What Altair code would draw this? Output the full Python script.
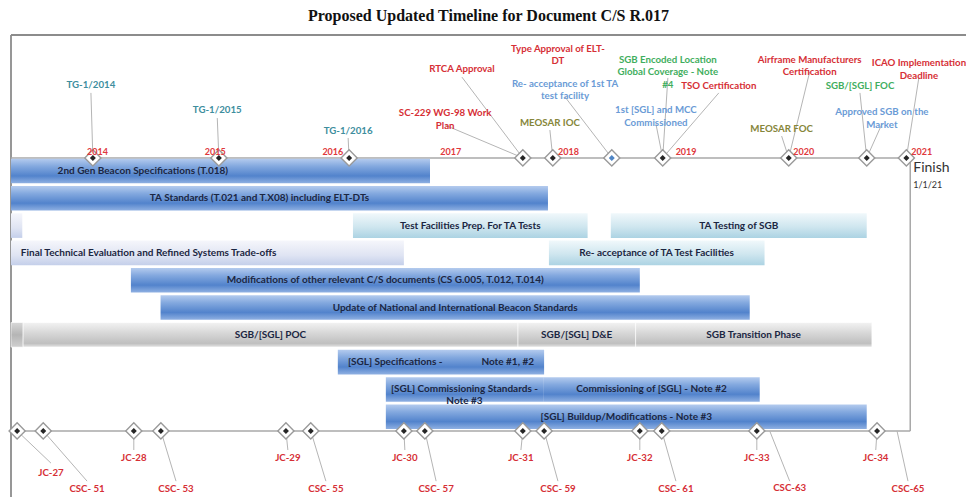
import altair as alt
import pandas as pd

NB = "\u00a0"

# ---------------- data ----------------
domain_start = "2013-05-13"
domain_end = "2021-06-23"
row_min, row_max = -3.982, 12.941      # y-scale domain (row units)
top_line_row, bottom_line_row = 0.52, 10.52
finish_date = "2021-01-01"

bar_tasks = [
    "2nd Gen Beacon Specifications (T.018)",
    "TA Standards (T.021 and T.X08) including ELT-DTs",
    "",
    "Test Facilities Prep. For TA Tests",
    "TA Testing of SGB",
    "Final Technical Evaluation and Refined Systems Trade-offs",
    "Re- acceptance of TA Test Facilities",
    "Modifications of other relevant C/S documents (CS G.005, T.012, T.014)",
    "Update of National and International Beacon Standards",
    "",
    "SGB/[SGL] POC",
    "SGB/[SGL] D&E",
    "SGB Transition Phase",
    "[SGL] Specifications -" + NB * 16 + "Note #1, #2",
    "[SGL] Commissioning Standards -\nNote #3",
    "Commissioning of [SGL] - Note #2",
    "[SGL] Buildup/Modifications - Note #3",
]
bar_rows = [1, 2, 3, 3, 3, 4, 4, 5, 6, 7, 7, 7, 7, 8, 9, 9, 10]
bar_starts = ["2013-05-13", "2013-05-13", "2013-05-13", "2016-04-08", "2018-06-17",
              "2013-05-13", "2017-12-07", "2014-05-20", "2014-08-20", "2013-05-13",
              "2013-06-19", "2017-09-02", "2018-09-02", "2016-02-21", "2016-07-19",
              "2017-11-19", "2016-07-19"]
bar_ends = ["2016-12-03", "2017-12-04", "2013-06-17", "2018-04-06", "2020-08-19",
            "2016-09-13", "2019-10-07", "2018-09-15", "2019-08-22", "2013-06-19",
            "2017-09-02", "2018-09-02", "2020-09-04", "2017-11-22", "2017-11-19",
            "2019-09-22", "2020-08-19"]
bar_styles = ["blue", "blue", "pale", "cyan", "cyan", "pale", "cyan", "blue", "blue",
              "grayedge", "gray", "gray", "gray", "blue", "blue", "blue", "blue"]
bar_label_dates = ["2014-06-26", "2015-06-23", None, None, None, "2014-07-14", None, None,
                   None, None, None, None, None, None, None, None, None]

top_labels = ["TG-1/2014", "TG-1/2015", "TG-1/2016", "RTCA Approval",
              "SC-229 WG-98 Work\nPlan", "Type Approval of ELT-\nDT",
              "Re- acceptance of 1st TA\ntest facility", "MEOSAR IOC",
              "SGB Encoded Location\nGlobal Coverage - Note\n#4", "TSO Certification",
              "1st [SGL] and MCC\nCommissioned", "Airframe Manufacturers\nCertification",
              "MEOSAR FOC", "SGB/[SGL] FOC", "Approved SGB on the\nMarket",
              "ICAO Implementation\nDeadline"]
top_dates = ["2014-01-22", "2015-02-17", "2016-03-27", "2017-09-17", "2017-09-17",
             "2018-06-20", "2018-06-20", "2017-12-19", "2018-11-25", "2018-11-25",
             "2018-11-25", "2019-12-21", "2019-12-21", "2020-08-19", "2020-08-19",
             "2020-12-20"]
top_label_dates = ["2014-01-16", "2015-02-12", "2016-03-24", "2017-03-12", "2017-01-19",
                   "2018-01-04", "2018-01-26", "2017-12-10", "2018-12-11", "2019-05-18",
                   "2018-11-04", "2020-02-24", "2019-11-29", "2020-07-29", "2020-10-05",
                   "2021-01-28"]
top_label_rows = [-2.15, -1.23, -0.47, -2.74, -1.12, -3.47, -2.20, -0.76, -3.08, -2.11,
                  -1.22, -3.08, -0.54, -2.11, -1.16, -2.94]
top_leader_rows = [-1.86, -0.94, -0.21, -2.44, -0.68, None, -1.71, -0.50, -2.41, -1.86,
                   -0.72, -2.63, -0.28, -1.86, -0.72, -2.44]
top_kinds = ["TG", "TG", "TG", "Regulatory", "Regulatory", "Regulatory", "Facility",
             "MEOSAR", "Coverage", "Regulatory", "Facility", "Regulatory", "MEOSAR",
             "Coverage", "Facility", "Regulatory"]

top_diamond_dates = ["2014-01-22", "2015-02-17", "2016-03-27", "2017-09-17", "2017-12-19",
                     "2018-06-20", "2018-11-25", "2019-12-21", "2020-08-19", "2020-12-20"]
top_diamond_kinds = ["done", "done", "done", "done", "done", "facility", "done", "done",
                     "done", "done"]

bottom_labels = ["JC-27", "CSC- 51", "JC-28", "CSC- 53", "JC-29", "CSC- 55", "JC-30",
                 "CSC- 57", "JC-31", "CSC- 59", "JC-32", "CSC- 61", "JC-33", "CSC-63",
                 "JC-34", "CSC-65"]
bottom_dates = ["2013-06-01", "2013-08-21", "2014-05-29", "2014-08-21", "2015-09-13",
                "2015-11-29", "2016-09-13", "2016-11-17", "2017-09-17", "2017-11-22",
                "2018-09-15", "2018-11-22", "2019-09-13", "2019-10-23", "2020-09-20",
                "2020-11-21"]
bottom_label_dates = ["2013-09-14", "2014-01-04", "2014-05-29", "2014-10-07", "2015-09-19",
                      "2016-01-15", "2016-09-16", "2016-12-22", "2017-09-11", "2018-01-04",
                      "2018-09-15", "2019-01-05", "2019-09-13", "2019-12-24", "2020-09-16",
                      "2020-12-25"]
bottom_label_rows = [12.06, 12.66, 11.51, 12.66, 11.51, 12.66, 11.51, 12.66, 11.51, 12.66,
                     11.51, 12.66, 11.51, 12.62, 11.51, 12.66]
bottom_leader_rows = [11.70, 12.36, 11.22, 12.36, 11.22, 12.36, 11.22, 12.36, 11.22, 12.36,
                      11.22, 12.36, 11.22, 12.36, 11.22, 12.36]
bottom_has_diamond = [True] * 13 + [False, True, False]

year_labels = ["2014", "2015", "2016", "2017", "2018", "2019", "2020", "2021"]
year_dates = ["2014-01-01", "2015-01-01", "2016-01-01", "2017-01-01", "2018-01-01",
              "2019-01-01", "2020-01-01", "2021-01-01"]
year_row = 0.30

finish_texts = ["Finish", "1/1/21"]
finish_rows = [0.89, 1.51]

title_text = "Proposed Updated Timeline for Document C/S R.017"

kind_domain = ["Regulatory", "TG", "Facility", "Coverage", "MEOSAR"]
kind_colors = ["#d62f36", "#3e8e9e", "#6a9bd6", "#3fae5e", "#86863a"]

# ---------------- tables ----------------
bars = pd.DataFrame({"task": bar_tasks, "row": bar_rows, "start": bar_starts,
                     "end": bar_ends, "style": bar_styles})
s = pd.to_datetime(bars["start"])
e = pd.to_datetime(bars["end"])
mid = s + (e - s) / 2
bars["label_at"] = [la if la else m.strftime("%Y-%m-%d") for la, m in zip(bar_label_dates, mid)]
bars["top"] = bars["row"] - 0.45
bars["bottom"] = bars["row"] + 0.45

top_ms = pd.DataFrame({"label": top_labels, "date": top_dates, "label_at": top_label_dates,
                       "label_row": top_label_rows, "leader_row": top_leader_rows,
                       "kind": top_kinds})
top_ms["line_row"] = top_line_row
bot_ms = pd.DataFrame({"label": bottom_labels, "date": bottom_dates,
                       "label_at": bottom_label_dates, "label_row": bottom_label_rows,
                       "leader_row": bottom_leader_rows, "has_diamond": bottom_has_diamond})
bot_ms["kind"] = "Regulatory"
bot_ms["line_row"] = bottom_line_row

labels_all = pd.concat([top_ms[["label", "label_at", "label_row", "kind"]],
                        bot_ms[["label", "label_at", "label_row", "kind"]]])
leaders = pd.concat([top_ms.dropna(subset=["leader_row"])[["label_at", "leader_row", "date", "line_row"]],
                     bot_ms[["label_at", "leader_row", "date", "line_row"]]])

diamonds = pd.concat([
    pd.DataFrame({"date": top_diamond_dates, "row": top_line_row, "kind": top_diamond_kinds}),
    pd.DataFrame({"date": bot_ms.loc[bot_ms.has_diamond, "date"].tolist(),
                  "row": bottom_line_row, "kind": "done"}),
])

lines = pd.DataFrame({
    "x": [domain_start, domain_start, domain_start, domain_start, finish_date],
    "x2": [domain_end, domain_start, finish_date, finish_date, finish_date],
    "y": [row_min, row_min, top_line_row, bottom_line_row, top_line_row],
    "y2": [row_min, row_max, top_line_row, bottom_line_row, bottom_line_row],
    "kind": ["frame", "frame", "timeline", "timeline", "timeline"],
})
years = pd.DataFrame({"year": year_labels, "date": year_dates, "row": year_row})
finish = pd.DataFrame({"text": finish_texts, "date": finish_date, "row": finish_rows,
                       "size": [14, 9]})

# ---------------- scales ----------------
xs = alt.Scale(domain=[alt.DateTime(year=2013, month=5, date=13, utc=True),
                       alt.DateTime(year=2021, month=6, date=23, utc=True)])
ys = alt.Scale(domain=[row_min, row_max], reverse=True, nice=False, zero=False)


def X(f):
    return alt.X(f + ":T", scale=xs, axis=None)


def Y(f):
    return alt.Y(f + ":Q", scale=ys, axis=None)


def grad(stops):
    return alt.Gradient(gradient="linear", x1=0, x2=0, y1=0, y2=1,
                        stops=[alt.GradientStop(offset=o, color=c) for o, c in stops])


styles = {
    "blue": grad([(0, "#b4cbee"), (0.3, "#84a9df"), (0.7, "#5283cc"), (1, "#8fb0e2")]),
    "cyan": grad([(0, "#f0f8fb"), (0.55, "#cfe6ef"), (1, "#acd3e3")]),
    "pale": grad([(0, "#f5f6fb"), (0.6, "#dfe4f3"), (1, "#c4cfea")]),
    "gray": grad([(0, "#f2f2f2"), (0.45, "#d6d6d6"), (0.85, "#bfbfbf"), (1, "#e4e4e4")]),
    "grayedge": grad([(0, "#d8d8d8"), (0.5, "#b5b5b5"), (1, "#cfcfcf")]),
}

frame_layer = alt.Chart(lines).transform_filter(alt.datum.kind == "frame").mark_rule(
    strokeWidth=1.8, color="#8c8c8c").encode(x=X("x"), x2="x2:T", y=Y("y"), y2="y2:Q")
timeline_layer = alt.Chart(lines).transform_filter(alt.datum.kind == "timeline").mark_rule(
    strokeWidth=1.5, color="#a8a8a8").encode(x=X("x"), x2="x2:T", y=Y("y"), y2="y2:Q")

leader_layer = alt.Chart(leaders).mark_rule(strokeWidth=1, color="#b5b5b5").encode(
    x=X("label_at"), x2="date:T", y=Y("leader_row"), y2="line_row:Q")

bar_layers = []
for st, g in styles.items():
    bar_layers.append(
        alt.Chart(bars).transform_filter(alt.datum.style == st)
        .mark_bar(color=g, stroke="white", strokeWidth=0.6 if st.startswith("gray") else 0)
        .encode(x=X("start"), x2="end:T", y=Y("top"), y2="bottom:Q")
    )

bar_text = alt.Chart(bars).transform_filter(alt.datum.task != "").mark_text(
    font="Lato", fontSize=10, fontWeight="bold", color="#1b2642", lineBreak="\n",
    lineHeight=11.5, align="center", baseline="middle",
).encode(x=X("label_at"), y=Y("row"), text="task:N")

diamond_outer = alt.Chart(diamonds).mark_point(
    shape="diamond", fill="white", stroke="#9a9a9a", strokeWidth=1.4, size=260, opacity=1,
).encode(x=X("date"), y=Y("row"))
diamond_dark = alt.Chart(diamonds).transform_filter(alt.datum.kind == "done").mark_point(
    shape="diamond", filled=True, size=36, opacity=1, color="#262626",
).encode(x=X("date"), y=Y("row"))
diamond_blue = alt.Chart(diamonds).transform_filter(alt.datum.kind == "facility").mark_point(
    shape="diamond", filled=True, size=36, opacity=1, color="#4f86c6",
).encode(x=X("date"), y=Y("row"))

label_layer = alt.Chart(labels_all).mark_text(
    font="Lato", fontSize=9.7, fontWeight="bold", lineBreak="\n", lineHeight=12.5,
    align="center", baseline="middle",
).encode(x=X("label_at"), y=Y("label_row"), text="label:N",
         color=alt.Color("kind:N", scale=alt.Scale(domain=kind_domain, range=kind_colors),
                         legend=None))

year_layer = alt.Chart(years).mark_text(
    font="Lato", fontSize=9, fontWeight="bold", color="#e0383c", align="left",
    baseline="middle", dx=1,
).encode(x=X("date"), y=Y("row"), text="year:N")

finish_layer = alt.Chart(finish).mark_text(
    font="Lato", color="#333333", align="left", baseline="middle", dx=3,
).encode(x=X("date"), y=Y("row"), text="text:N",
         size=alt.Size("size:Q", scale=None, legend=None))

chart = alt.layer(
    frame_layer, timeline_layer, leader_layer, *bar_layers, bar_text, diamond_outer,
    diamond_dark, diamond_blue, label_layer, year_layer, finish_layer,
).properties(
    width=955, height=462,
    autosize=alt.AutoSizeParams(type="none"),
    padding={"left": 3, "top": 27, "right": 0, "bottom": 0},
    title=alt.TitleParams(title_text, font="Liberation Serif", fontSize=16,
                          fontWeight="bold", color="#111111", anchor="middle", offset=10),
).configure_view(stroke=None)

chart.save("out.html", embed_options={"renderer": "svg", "actions": False})
